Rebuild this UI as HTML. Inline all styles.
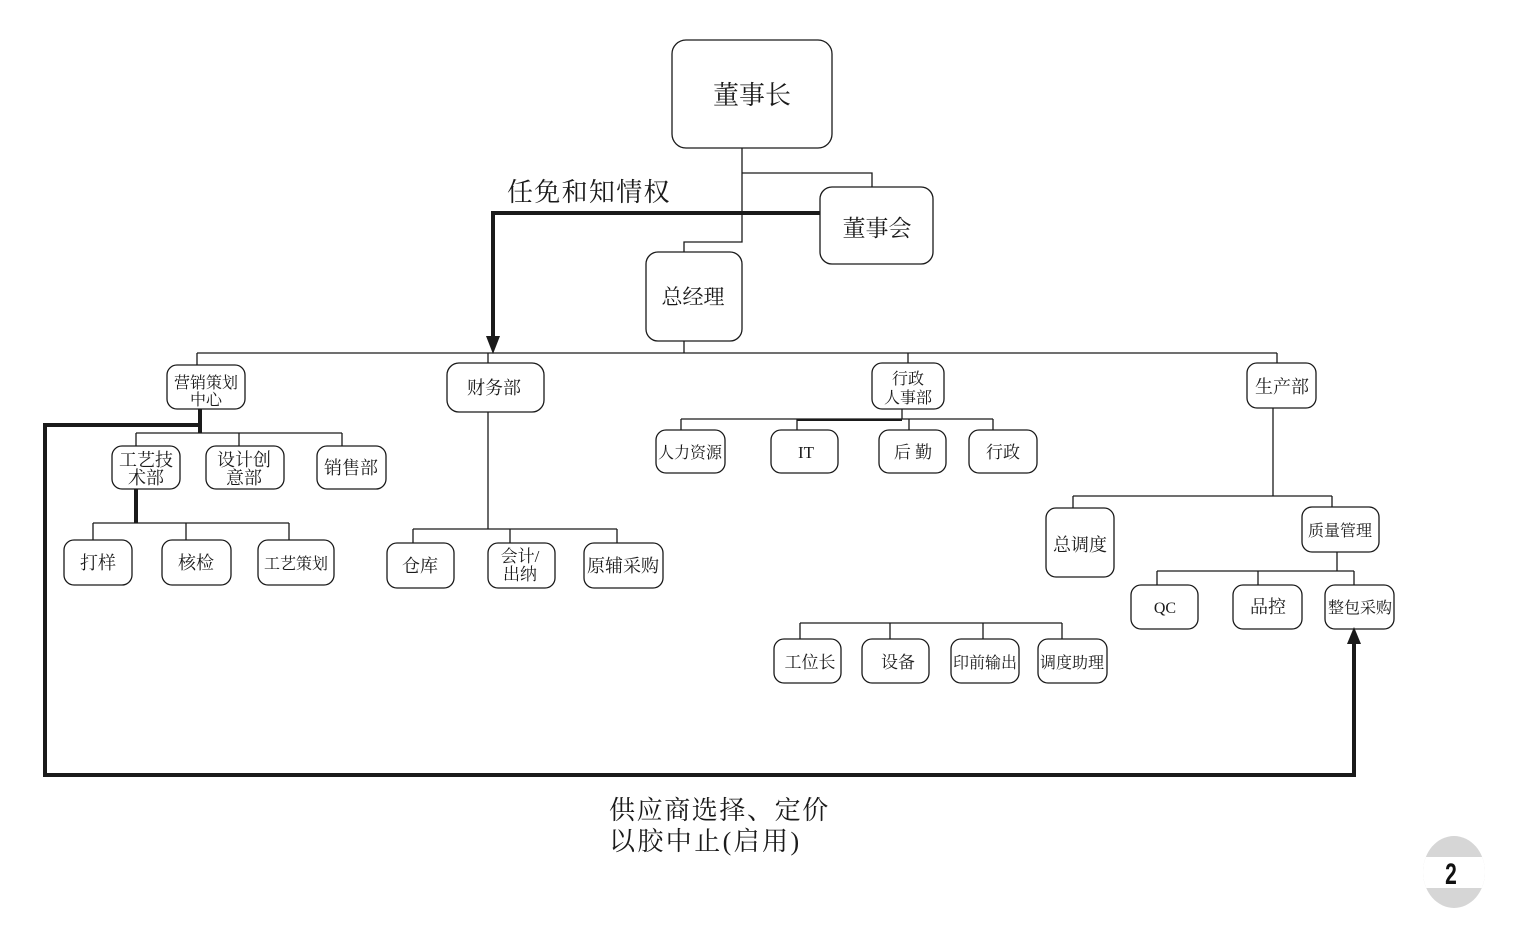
<!DOCTYPE html>
<html><head><meta charset="utf-8">
<style>
html,body{margin:0;padding:0;background:#fff;}
svg{display:block;}
text{font-family:"Liberation Serif","Noto Serif CJK SC",serif;fill:#1a1a1a;}
.b{fill:#fff;stroke:#1a1a1a;stroke-width:1.3;}
.l{stroke:#1a1a1a;stroke-width:1.3;fill:none;}
.t{stroke:#1a1a1a;stroke-width:4;fill:none;}
</style></head>
<body>
<svg width="1519" height="930" viewBox="0 0 1519 930" xmlns="http://www.w3.org/2000/svg">
<!-- top connectors -->
<polyline class="l" points="742,148 742,242 684,242 684,252"/>
<polyline class="l" points="742,173 872,173 872,187"/>
<line class="l" x1="684" y1="341" x2="684" y2="353"/>
<line class="l" x1="197" y1="353" x2="1277" y2="353"/>
<line class="l" x1="197" y1="353" x2="197" y2="365"/>
<line class="l" x1="488" y1="353" x2="488" y2="363"/>
<line class="l" x1="908" y1="353" x2="908" y2="363"/>
<line class="l" x1="1277" y1="353" x2="1277" y2="363"/>

<!-- boxes top -->
<rect class="b" x="672" y="40" width="160" height="108" rx="14"/>
<text x="752" y="104" font-size="26" text-anchor="middle">董事长</text>
<rect class="b" x="820" y="187" width="113" height="77" rx="12"/>
<text x="877" y="236" font-size="23" text-anchor="middle">董事会</text>
<rect class="b" x="646" y="252" width="96" height="89" rx="12"/>
<text x="693" y="304" font-size="21" text-anchor="middle">总经理</text>

<!-- thick arrow 1 -->
<polyline class="t" points="820,213 493,213 493,340"/>
<polygon points="486,336 500,336 493,354" fill="#1a1a1a"/>
<text x="507" y="201" font-size="26" letter-spacing="1.3">任免和知情权</text>

<!-- 营销策划中心 -->
<line class="l" x1="136" y1="433" x2="342" y2="433"/>
<line class="l" x1="136" y1="433" x2="136" y2="446"/>
<line class="l" x1="239" y1="433" x2="239" y2="446"/>
<line class="l" x1="342" y1="433" x2="342" y2="446"/>
<rect class="b" x="167" y="365" width="78" height="44" rx="10"/>
<text x="206" y="388" font-size="16" text-anchor="middle">营销策划</text>
<text x="206" y="405" font-size="16" text-anchor="middle">中心</text>

<rect class="b" x="112" y="446" width="68" height="43" rx="10"/>
<text x="146" y="466" font-size="18" text-anchor="middle">工艺技</text>
<text x="146" y="484" font-size="18" text-anchor="middle">术部</text>
<rect class="b" x="206" y="446" width="78" height="43" rx="10"/>
<text x="244" y="466" font-size="18" text-anchor="middle">设计创</text>
<text x="244" y="484" font-size="18" text-anchor="middle">意部</text>
<rect class="b" x="317" y="446" width="69" height="43" rx="10"/>
<text x="351" y="474" font-size="18" text-anchor="middle">销售部</text>

<line class="t" x1="136" y1="489" x2="136" y2="523"/>
<line class="l" x1="93" y1="523" x2="289" y2="523"/>
<line class="l" x1="93" y1="523" x2="93" y2="540"/>
<line class="l" x1="186" y1="523" x2="186" y2="540"/>
<line class="l" x1="289" y1="523" x2="289" y2="540"/>
<rect class="b" x="64" y="540" width="68" height="45" rx="10"/>
<text x="98" y="569" font-size="18" text-anchor="middle">打样</text>
<rect class="b" x="162" y="540" width="69" height="45" rx="10"/>
<text x="196" y="569" font-size="18" text-anchor="middle">核检</text>
<rect class="b" x="258" y="540" width="76" height="45" rx="10"/>
<text x="296" y="569" font-size="16" text-anchor="middle">工艺策划</text>

<!-- 财务部 -->
<rect class="b" x="447" y="363" width="97" height="49" rx="12"/>
<text x="494" y="394" font-size="18" text-anchor="middle">财务部</text>
<line class="l" x1="488" y1="412" x2="488" y2="529"/>
<line class="l" x1="413" y1="529" x2="617" y2="529"/>
<line class="l" x1="413" y1="529" x2="413" y2="543"/>
<line class="l" x1="510" y1="529" x2="510" y2="543"/>
<line class="l" x1="617" y1="529" x2="617" y2="543"/>
<rect class="b" x="387" y="543" width="67" height="45" rx="10"/>
<text x="420" y="572" font-size="18" text-anchor="middle">仓库</text>
<rect class="b" x="488" y="543" width="67" height="45" rx="10"/>
<text x="520" y="562" font-size="17" text-anchor="middle">会计/</text>
<text x="520" y="580" font-size="17" text-anchor="middle">出纳</text>
<rect class="b" x="584" y="543" width="79" height="45" rx="10"/>
<text x="623" y="572" font-size="18" text-anchor="middle">原辅采购</text>

<!-- 行政人事部 -->
<rect class="b" x="872" y="363" width="72" height="46" rx="10"/>
<text x="908" y="384" font-size="16" text-anchor="middle">行政</text>
<text x="908" y="403" font-size="16" text-anchor="middle">人事部</text>
<line class="l" x1="902" y1="409" x2="902" y2="419"/>
<line class="l" x1="681" y1="419" x2="993" y2="419"/>
<line x1="797" y1="420" x2="902" y2="420" stroke="#1a1a1a" stroke-width="2"/>
<line class="l" x1="681" y1="419" x2="681" y2="430"/>
<line class="l" x1="797" y1="419" x2="797" y2="430"/>
<line class="l" x1="909" y1="419" x2="909" y2="430"/>
<line class="l" x1="993" y1="419" x2="993" y2="430"/>
<rect class="b" x="656" y="430" width="69" height="43" rx="10"/>
<text x="690" y="458" font-size="16" text-anchor="middle">人力资源</text>
<rect class="b" x="771" y="430" width="67" height="43" rx="10"/>
<text x="806" y="458" font-size="17" text-anchor="middle">IT</text>
<rect class="b" x="879" y="430" width="67" height="43" rx="10"/>
<text x="913" y="458" font-size="17" text-anchor="middle">后 勤</text>
<rect class="b" x="969" y="430" width="68" height="43" rx="10"/>
<text x="1003" y="458" font-size="17" text-anchor="middle">行政</text>

<!-- 生产部 -->
<rect class="b" x="1247" y="363" width="69" height="45" rx="10"/>
<text x="1282" y="393" font-size="18" text-anchor="middle">生产部</text>
<line class="l" x1="1273" y1="408" x2="1273" y2="496"/>
<line class="l" x1="1073" y1="496" x2="1332" y2="496"/>
<line class="l" x1="1073" y1="496" x2="1073" y2="508"/>
<line class="l" x1="1332" y1="496" x2="1332" y2="507"/>
<rect class="b" x="1046" y="508" width="68" height="69" rx="10"/>
<text x="1080" y="551" font-size="18" text-anchor="middle">总调度</text>
<rect class="b" x="1302" y="507" width="77" height="45" rx="10"/>
<text x="1340" y="536" font-size="16" text-anchor="middle">质量管理</text>
<line class="l" x1="1337" y1="552" x2="1337" y2="571"/>
<line class="l" x1="1157" y1="571" x2="1354" y2="571"/>
<line class="l" x1="1157" y1="571" x2="1157" y2="585"/>
<line class="l" x1="1258" y1="571" x2="1258" y2="585"/>
<line class="l" x1="1354" y1="571" x2="1354" y2="585"/>
<rect class="b" x="1131" y="585" width="67" height="44" rx="10"/>
<text x="1165" y="613" font-size="16" text-anchor="middle">QC</text>
<rect class="b" x="1233" y="585" width="69" height="44" rx="10"/>
<text x="1268" y="613" font-size="18" text-anchor="middle">品控</text>
<rect class="b" x="1325" y="585" width="69" height="44" rx="10"/>
<text x="1360" y="613" font-size="16" text-anchor="middle">整包采购</text>

<!-- 工位长 group -->
<line class="l" x1="800" y1="623" x2="1062" y2="623"/>
<line class="l" x1="800" y1="623" x2="800" y2="639"/>
<line class="l" x1="890" y1="623" x2="890" y2="639"/>
<line class="l" x1="983" y1="623" x2="983" y2="639"/>
<line class="l" x1="1062" y1="623" x2="1062" y2="639"/>
<rect class="b" x="774" y="639" width="67" height="44" rx="10"/>
<text x="810" y="668" font-size="17" text-anchor="middle">工位长</text>
<rect class="b" x="862" y="639" width="67" height="44" rx="10"/>
<text x="898" y="668" font-size="17" text-anchor="middle">设备</text>
<rect class="b" x="951" y="639" width="68" height="44" rx="10"/>
<text x="985" y="668" font-size="16" text-anchor="middle">印前输出</text>
<rect class="b" x="1038" y="639" width="69" height="44" rx="10"/>
<text x="1072" y="668" font-size="16" text-anchor="middle">调度助理</text>

<!-- thick arrow 2 -->
<polyline class="t" points="200,409 200,433"/>
<polyline class="t" points="200,425 45,425 45,775 1354,775 1354,640"/>
<polygon points="1347,644 1361,644 1354,627" fill="#1a1a1a"/>
<text x="609" y="819" font-size="26" letter-spacing="1.6">供应商选择、定价</text>
<text x="609" y="850" font-size="26" letter-spacing="2.4">以胶中止(启用)</text>

<!-- page number -->
<defs><clipPath id="c"><ellipse cx="1454" cy="872" rx="31" ry="36"/></clipPath></defs>
<g clip-path="url(#c)">
<rect x="1415" y="830" width="80" height="85" fill="#d6d6d6"/>
<rect x="1415" y="857" width="80" height="31" fill="#fff"/>
</g>
<text x="0" y="0" font-size="30" font-weight="bold" text-anchor="middle" transform="translate(1451,884) scale(0.7,1)" style="font-family:'Liberation Sans',sans-serif;fill:#111">2</text>
</svg>
</body></html>
